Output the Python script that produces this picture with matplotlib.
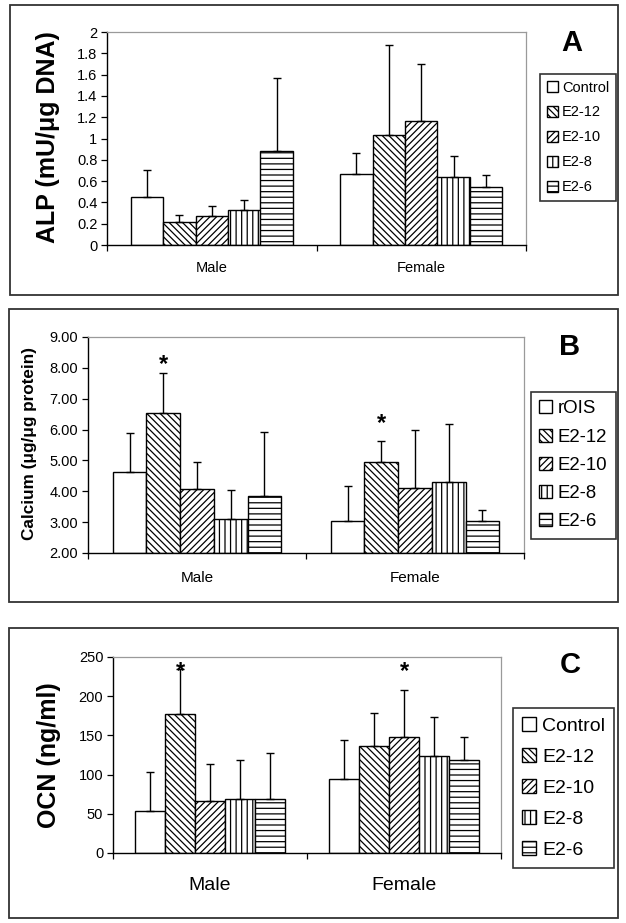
import numpy as np
import matplotlib
matplotlib.use("Agg")
import matplotlib.pyplot as plt
from matplotlib.patches import Rectangle
from matplotlib.ticker import FuncFormatter, FixedLocator

plt.rcParams['font.family'] = ['Liberation Sans', 'DejaVu Sans']
plt.rcParams['hatch.linewidth'] = 0.9

categories = ["Male", "Female"]
series_A = ["Control", "E2-12", "E2-10", "E2-8", "E2-6"]
series_B = ["rOIS", "E2-12", "E2-10", "E2-8", "E2-6"]
series_C = ["Control", "E2-12", "E2-10", "E2-8", "E2-6"]

# values per series: [Male, Female]
alp_mean = [[0.45, 0.67], [0.22, 1.03], [0.27, 1.16], [0.33, 0.64], [0.88, 0.54]]
alp_err_top = [[0.70, 0.86], [0.28, 1.88], [0.37, 1.70], [0.42, 0.84], [1.57, 0.66]]

ca_mean = [[4.62, 3.05], [6.55, 4.94], [4.07, 4.11], [3.09, 4.29], [3.85, 3.05]]
ca_err_top = [[5.89, 4.17], [7.84, 5.63], [4.95, 5.99], [4.04, 6.19], [5.92, 3.38]]
ca_stars = [(0, 1, 8.12), (1, 1, 6.2)]  # (category, series, y)

ocn_mean = [[53, 94], [177, 136], [66, 148], [69, 124], [69, 118]]
ocn_err_top = [[103, 144], [235, 179], [114, 208], [119, 174], [127, 148]]
ocn_stars = [(0, 1, 232), (1, 2, 232)]

hatches = [None, '\\\\\\\\\\', '/////', '|||', '---']

W, H = 626, 923
fig = plt.figure(figsize=(W / 100, H / 100), dpi=100)


def fx(px):
    return px / W


def fy(py):
    return 1 - py / H


def panel_border(x0, y0, x1, y1):
    fig.patches.append(Rectangle((fx(x0), fy(y1)), fx(x1 - x0), (y1 - y0) / H,
                                 transform=fig.transFigure, fill=False,
                                 edgecolor='#333333', linewidth=1.3))


def make_axes(l, t, r, b):
    return fig.add_axes([fx(l), fy(b), fx(r - l), (b - t) / H])


def draw_panel(ax, series, means, errtops, ylim, yticks, fmt, tick_fs, cat_fs, cat_off):
    n = len(series)
    group = 0.773
    w = group / n
    x = np.arange(len(categories))
    for i, name in enumerate(series):
        xs = x + (i - (n - 1) / 2) * w
        m = np.array(means[i], dtype=float)
        e = np.array(errtops[i], dtype=float) - m
        ax.bar(xs, m - ylim[0], width=w, bottom=ylim[0], facecolor='white', edgecolor='black',
               linewidth=1.0, hatch=hatches[i], label=name, zorder=2)
        ax.errorbar(xs, m, yerr=[np.zeros_like(e), e], fmt='none', ecolor='black',
                    elinewidth=1.0, capsize=2.6, capthick=1.0, zorder=3)
    ax.set_xlim(-0.5, len(categories) - 0.5)
    ax.set_ylim(*ylim)
    ax.yaxis.set_major_locator(FixedLocator(yticks))
    ax.yaxis.set_major_formatter(FuncFormatter(fmt))
    ax.set_xticks(np.arange(-0.5, len(categories), 1.0))
    ax.set_xticklabels([])
    ax.tick_params(axis='both', direction='out', length=4, width=0.9, colors='black')
    ax.tick_params(axis='y', labelsize=tick_fs, pad=3)
    for s in ['left', 'bottom']:
        ax.spines[s].set_color('black')
        ax.spines[s].set_linewidth(1.0)
    for s in ['top', 'right']:
        ax.spines[s].set_color('#9a9a9a')
        ax.spines[s].set_linewidth(0.9)
    for i, c in enumerate(categories):
        ax.annotate(c, xy=(i, 0), xycoords=('data', 'axes fraction'),
                    xytext=(0, -cat_off * 0.72), textcoords='offset points',
                    ha='center', va='center', fontsize=cat_fs)
    return w


def add_legend(ax, x0, y0, fs, spacing, hl):
    leg = ax.legend(loc='upper left', bbox_to_anchor=(fx(x0), fy(y0)),
                    bbox_transform=fig.transFigure, borderaxespad=0,
                    fontsize=fs, frameon=True, fancybox=False, edgecolor='black',
                    handlelength=hl, handleheight=hl, handletextpad=0.3,
                    labelspacing=spacing, borderpad=0.45)
    leg.get_frame().set_linewidth(1.2)
    return leg


# ---------- Panel A ----------
panel_border(10, 5, 618, 295)
axA = make_axes(107, 32, 526, 245)
draw_panel(axA, series_A, alp_mean, alp_err_top, (0, 2), np.arange(0, 2.01, 0.2),
           lambda v, p: f"{v:g}", 10.5, 10.5, 23)
add_legend(axA, 540, 74, 10.5, 0.75, 0.75)
fig.text(fx(48), fy(137), "ALP (mU/\u03bcg DNA)", rotation=90, ha='center', va='center',
         fontsize=18, fontweight='bold')
fig.text(fx(572), fy(43), "A", ha='center', va='center', fontsize=21, fontweight='bold')

# ---------- Panel B ----------
panel_border(9, 309, 618, 602)
axB = make_axes(88, 337, 524, 553)
wB = draw_panel(axB, series_B, ca_mean, ca_err_top, (2, 9), np.arange(2, 9.01, 1),
                lambda v, p: f"{v:.2f}", 10.5, 11, 25)
for ci, si, yv in ca_stars:
    axB.text(ci + (si - 2) * wB, yv, "*", ha='center', va='center', fontsize=17, fontweight='bold')
add_legend(axB, 531, 392, 13.4, 0.6, 0.7)
fig.text(fx(30), fy(443), "Calcium (\u03bcg/\u03bcg protein)", rotation=90, ha='center',
         va='center', fontsize=12.3, fontweight='bold')
fig.text(fx(570), fy(347), "B", ha='center', va='center', fontsize=21, fontweight='bold')

# ---------- Panel C ----------
panel_border(9, 628, 618, 918)
axC = make_axes(113, 657, 501, 853)
wC = draw_panel(axC, series_C, ocn_mean, ocn_err_top, (0, 250), np.arange(0, 251, 50),
                lambda v, p: f"{v:.0f}", 10.5, 14, 32)
for ci, si, yv in ocn_stars:
    axC.text(ci + (si - 2) * wC, yv, "*", ha='center', va='center', fontsize=17, fontweight='bold')
add_legend(axC, 513, 708, 14.0, 0.68, 0.75)
fig.text(fx(49), fy(755), "OCN (ng/ml)", rotation=90, ha='center', va='center',
         fontsize=18, fontweight='bold')
fig.text(fx(570), fy(665), "C", ha='center', va='center', fontsize=21, fontweight='bold')

fig.savefig("out.png", dpi=100)
